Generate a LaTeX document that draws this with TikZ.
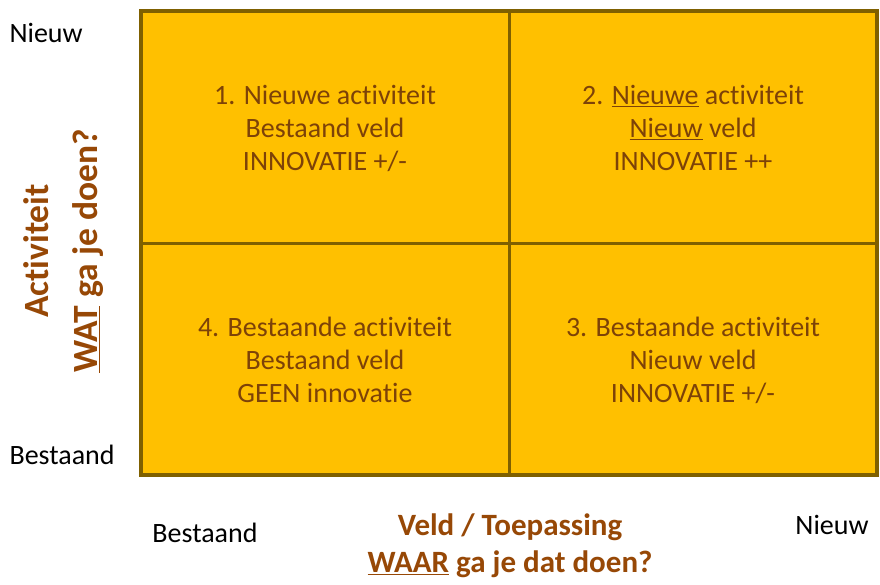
\documentclass[tikz,border=0pt]{standalone}
\usepackage{fontspec}
\setmainfont{Carlito}[Ligatures=NoCommon]
\definecolor{cellfill}{RGB}{255,192,0}
\definecolor{cellline}{RGB}{127,96,0}
\definecolor{celltext}{RGB}{125,66,8}
\definecolor{axistext}{RGB}{151,72,6}
\newcommand{\ul}[1]{\underline{#1}}
\begin{document}
\begin{tikzpicture}[x=1pt,y=1pt,
  cell/.style={draw=cellline,fill=cellfill,line width=3.5pt},
  celllabel/.style={text=celltext,align=center,font=\fontsize{28}{33}\selectfont},
  small/.style={text=black,font=\fontsize{28}{30}\selectfont},
  axislabel/.style={text=axistext,align=center,font=\bfseries\fontsize{31}{37}\selectfont},
  yaxislabel/.style={text=axistext,align=center,font=\bfseries\fontsize{35.5}{49}\selectfont}]
\useasboundingbox (0,0) rectangle (880,585);
\fill[white] (0,0) rectangle (880,585);
% cells
\draw[cell] (141,574) rectangle (877,110);
\draw[cellline,line width=3.5pt] (509.5,574) coordinate (vt) -- (509.5,110) coordinate (vb);
\draw[cellline,line width=3.5pt] (141,341.5) coordinate (hl) -- (877,341.5) coordinate (hr);
% cell texts
\node[celllabel] (c1) at (325,457) {1. Nieuwe activiteit\\Bestaand veld\\INNOVATIE +/-};
\node[celllabel] (c2) at (693,457) {2. \ul{Nieuwe} activiteit\\\ul{Nieuw} veld\\INNOVATIE ++};
\node[celllabel] (c4) at (325,225) {4. Bestaande activiteit\\Bestaand veld\\GEEN innovatie};
\node[celllabel] (c3) at (693,225) {3. Bestaande activiteit\\Nieuw veld\\INNOVATIE +/-};
% axis ends
\node[small,anchor=west] (ln) at (6,552) {Nieuw};
\node[small,anchor=west] (lb) at (6,130) {Bestaand};
\node[small] (bb) at (205,52) {Bestaand};
\node[small] (bn) at (832,60) {Nieuw};
% axis titles
\node[yaxislabel,rotate=90] (ya) at (64,334) {Activiteit\\\ul{WAT} ga je doen?};
\node[axislabel] (xa) at (510,39) {Veld / Toepassing\\\ul{WAAR} ga je dat doen?};
\end{tikzpicture}
\end{document}
